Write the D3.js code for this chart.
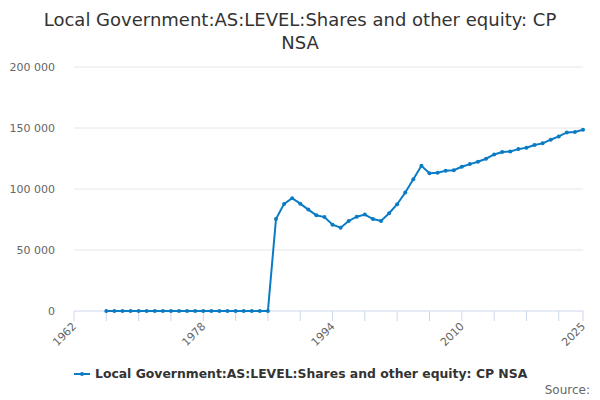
<!DOCTYPE html>
<html><head><meta charset="utf-8">
<script src="https://cdn.jsdelivr.net/npm/d3@7"></script>
<style>body{margin:0;background:#fff;font-family:"DejaVu Sans",sans-serif;}</style>
</head><body><div id="chart"></div>
<script>
const width = 600, height = 400;
const margin = {top: 67, right: 17, bottom: 89, left: 74};

const values = [
  [1966,0],[1967,0],[1968,0],[1969,0],[1970,0],[1971,0],[1972,0],[1973,0],[1974,0],[1975,0],
  [1976,0],[1977,0],[1978,0],[1979,0],[1980,0],[1981,0],[1982,0],[1983,0],[1984,0],[1985,0],[1986,0],
  [1987,75400],[1988,87800],[1989,92400],[1990,88000],[1991,83100],[1992,78400],[1993,77000],
  [1994,70700],[1995,68300],[1996,73800],[1997,77300],[1998,79000],[1999,75400],[2000,73800],
  [2001,80100],[2002,87500],[2003,97100],[2004,108000],[2005,119000],[2006,113000],[2007,113300],
  [2008,114900],[2009,115400],[2010,118200],[2011,120400],[2012,122300],[2013,124800],[2014,128300],
  [2015,130300],[2016,130800],[2017,132700],[2018,133800],[2019,136000],[2020,137400],[2021,140400],
  [2022,143100],[2023,146400],[2024,146700],[2025,148600]
].map(d => ({year: d[0], value: d[1]}));

const svg = d3.select('#chart').append('svg').attr('width', width).attr('height', height);

// Title
svg.append('text').attr('x', width/2).attr('y', 26).attr('text-anchor','middle')
  .style('font-size','18px').style('fill','#333').text('Local Government:AS:LEVEL:Shares and other equity: CP');
svg.append('text').attr('x', width/2).attr('y', 49).attr('text-anchor','middle')
  .style('font-size','18px').style('fill','#333').text('NSA');

const x = d3.scaleLinear().domain([1962, 2025]).range([margin.left, width - margin.right]);
const y = d3.scaleLinear().domain([0, 200000]).range([height - margin.bottom, margin.top]);

// Gridlines + y labels
const yt = [0, 50000, 100000, 150000, 200000];
svg.append('g').selectAll('line').data(yt).enter().append('line')
  .attr('x1', margin.left).attr('x2', width - margin.right)
  .attr('y1', d => y(d)).attr('y2', d => y(d))
  .style('stroke', d => d === 0 ? '#ccd6eb' : '#e6e6e6').style('stroke-width', 1);
svg.append('g').selectAll('text').data(yt).enter().append('text')
  .attr('x', 55).attr('y', d => y(d) + 4).attr('text-anchor','end')
  .style('font-size','11px').style('fill','#666')
  .text(d => d3.format(',')(d).replace(/,/g, ' '));

// x ticks every 4 years, labels at selected years
const ticks = d3.range(1962, 2025, 4).concat([2025]);
svg.append('g').selectAll('line').data(ticks).enter().append('line')
  .attr('x1', d => x(d)).attr('x2', d => x(d))
  .attr('y1', y(0)).attr('y2', y(0) + 10).style('stroke', '#ccd6eb');
svg.append('g').selectAll('text').data([1962, 1978, 1994, 2010, 2025]).enter().append('text')
  .attr('transform', d => `translate(${x(d) + 3},${y(0) + 16}) rotate(-45)`)
  .attr('text-anchor','end').style('font-size','11px').style('fill','#666').text(d => d);

// Line
const line = d3.line().x(d => x(d.year)).y(d => y(d.value));
svg.append('path').datum(values).attr('d', line)
  .style('fill','none').style('stroke','#0a7bc4').style('stroke-width', 2);
svg.append('g').selectAll('circle').data(values).enter().append('circle')
  .attr('cx', d => x(d.year)).attr('cy', d => y(d.value)).attr('r', 2)
  .style('fill', '#0a7bc4');

// Legend
svg.append('line').attr('x1', 74).attr('x2', 90).attr('y1', 374).attr('y2', 374)
  .style('stroke','#0a7bc4').style('stroke-width', 2);
svg.append('circle').attr('cx', 82).attr('cy', 374).attr('r', 2).style('fill','#0a7bc4');
svg.append('text').attr('x', 95).attr('y', 378).style('font-size','12.4px').style('font-weight','bold')
  .style('fill','#333').text('Local Government:AS:LEVEL:Shares and other equity: CP NSA');

svg.append('text').attr('x', 590).attr('y', 394).attr('text-anchor','end')
  .style('font-size','12px').style('fill','#666').text('Source:');
</script></body></html>
